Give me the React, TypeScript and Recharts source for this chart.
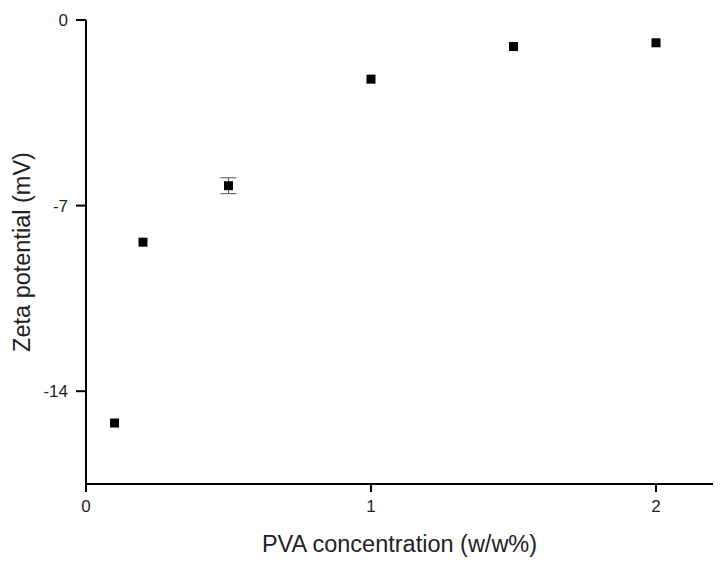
import React from "react";
import { ScatterChart, Scatter, XAxis, YAxis, ErrorBar } from "recharts";

const concentrations = [0.1, 0.2, 0.5, 1, 1.5, 2];
const zetaValues = [-15.2, -8.38, -6.25, -2.23, -1.0, -0.86];
const zetaErrors = [0, 0, 0.3, 0, 0, 0];
const xTicks = [0, 1, 2];
const yTicks = [-14, -7, 0];

const data = concentrations.map((c, i) => ({ x: c, y: zetaValues[i], err: zetaErrors[i] }));

const FONT = "'Liberation Sans', Arial, sans-serif";

const SquareShape = (props: any) => {
  const { cx, cy } = props;
  if (cx == null || cy == null) return null;
  const s = 9;
  return <rect x={cx - s / 2} y={cy - s / 2} width={s} height={s} fill="#000" />;
};

const XTick = (props: any) => {
  const { x, y, payload } = props;
  return (
    <text x={x} y={y + 16} textAnchor="middle" fontSize={17} fontFamily={FONT} fill="#222">
      {payload.value}
    </text>
  );
};

const YTick = (props: any) => {
  const { x, y, payload } = props;
  return (
    <text x={x} y={y + 6} textAnchor="end" fontSize={17} fontFamily={FONT} fill="#222">
      {payload.value}
    </text>
  );
};

export default function App() {
  return (
    <div style={{ position: "absolute", left: 0, top: 0, background: "#fff" }}>
      <ScatterChart width={723} height={564} margin={{ top: 20, right: 10, bottom: 10, left: 0 }}>
        <XAxis
          type="number"
          dataKey="x"
          domain={[0, 2.2]}
          ticks={xTicks}
          allowDataOverflow
          height={70}
          axisLine={{ stroke: "#000", strokeWidth: 2 }}
          tickLine={{ stroke: "#000", strokeWidth: 2 }}
          tickSize={8}
          tickMargin={4}
          tick={<XTick />}
          label={{ value: "PVA concentration (w/w%)", position: "insideBottom", offset: 2, fill: "#222", fontSize: 23.5, fontFamily: FONT }}
        />
        <YAxis
          type="number"
          dataKey="y"
          domain={[-17.5, 0]}
          ticks={yTicks}
          allowDataOverflow
          width={86}
          axisLine={{ stroke: "#000", strokeWidth: 2 }}
          tickLine={{ stroke: "#000", strokeWidth: 2 }}
          tickSize={10}
          tickMargin={8}
          tick={<YTick />}
          label={{ value: "Zeta potential (mV)", angle: -90, position: "insideLeft", offset: 22, fill: "#222", fontSize: 23.5, fontFamily: FONT, style: { textAnchor: "middle" } }}
        />
        <Scatter data={data} shape={<SquareShape />} isAnimationActive={false}>
          <ErrorBar dataKey="err" direction="y" width={8} stroke="#555" strokeWidth={1} />
        </Scatter>
      </ScatterChart>
    </div>
  );
}
